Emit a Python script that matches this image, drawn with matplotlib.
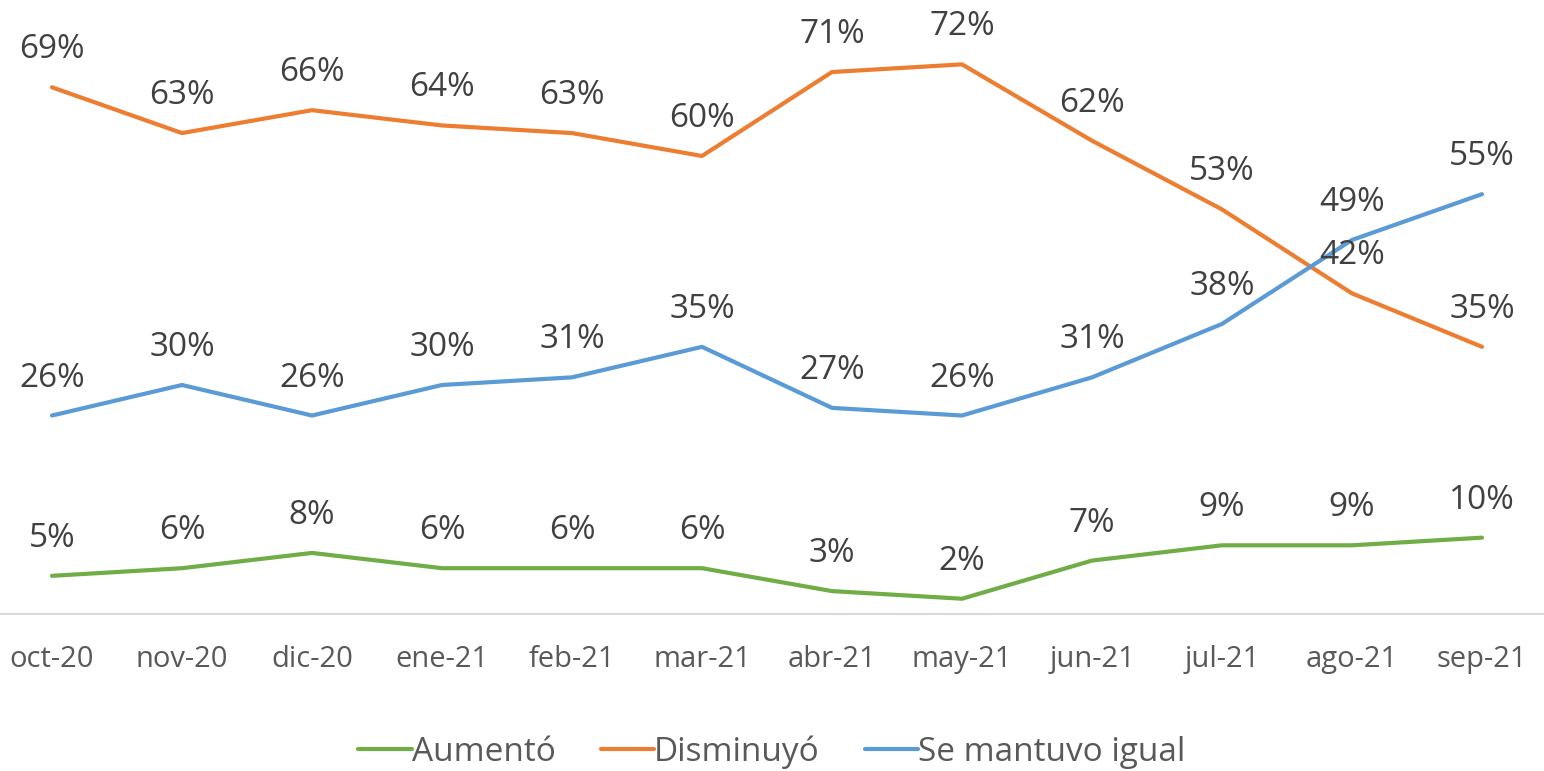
import matplotlib
matplotlib.use("Agg")
import matplotlib.pyplot as plt
from matplotlib.lines import Line2D

categories = ["oct-20", "nov-20", "dic-20", "ene-21", "feb-21", "mar-21",
              "abr-21", "may-21", "jun-21", "jul-21", "ago-21", "sep-21"]
aumento = [5, 6, 8, 6, 6, 6, 3, 2, 7, 9, 9, 10]
disminuyo = [69, 63, 66, 64, 63, 60, 71, 72, 62, 53, 42, 35]
igual = [26, 30, 26, 30, 31, 35, 27, 26, 31, 38, 49, 55]

series = [("Aumentó", aumento, "#70AD47"),
          ("Disminuyó", disminuyo, "#ED7D31"),
          ("Se mantuvo igual", igual, "#5B9BD5")]

plt.rcParams['font.family'] = ['Open Sans', 'DejaVu Sans']
W, H = 1544, 771
fig = plt.figure(figsize=(W / 100, H / 100), dpi=100)
left_px, right_px = -13, 1547
bottom_px, top_px = 614, 14
ax = fig.add_axes([left_px / W, 1 - bottom_px / H, (right_px - left_px) / W,
                   (bottom_px - top_px) / H])

x = list(range(len(categories)))
handles = []
for name, vals, col in series:
    ax.plot(x, vals, color=col, lw=3, solid_capstyle='round',
            solid_joinstyle='round', zorder=3)
    for xi, v in zip(x, vals):
        ax.annotate(f"{v}%", (xi, v), xytext=(0, 27), textcoords='offset points',
                    ha='center', va='center', fontsize=24, color='#404040',
                    zorder=4)
    handles.append(Line2D([0], [0], color=col, lw=3, solid_capstyle='round'))

ax.set_xlim(-0.5, len(categories) - 0.5)
ax.set_ylim(0, 78.6)
ax.set_xticks(x)
ax.set_xticklabels(categories, fontsize=21, color='#595959')
ax.tick_params(axis='x', length=0, pad=22)
ax.set_yticks([])
for s in ['top', 'right', 'left']:
    ax.spines[s].set_visible(False)
ax.spines['bottom'].set_color('#D9D9D9')
ax.spines['bottom'].set_linewidth(1.5)

fig.legend(handles, [s[0] for s in series], loc='center',
           bbox_to_anchor=(0.5, 1 - 752 / H), ncol=3, frameon=False,
           fontsize=24, handlelength=1.6, handletextpad=0.0, columnspacing=1.35,
           labelcolor='#595959')

fig.savefig("out.png", dpi=100)
